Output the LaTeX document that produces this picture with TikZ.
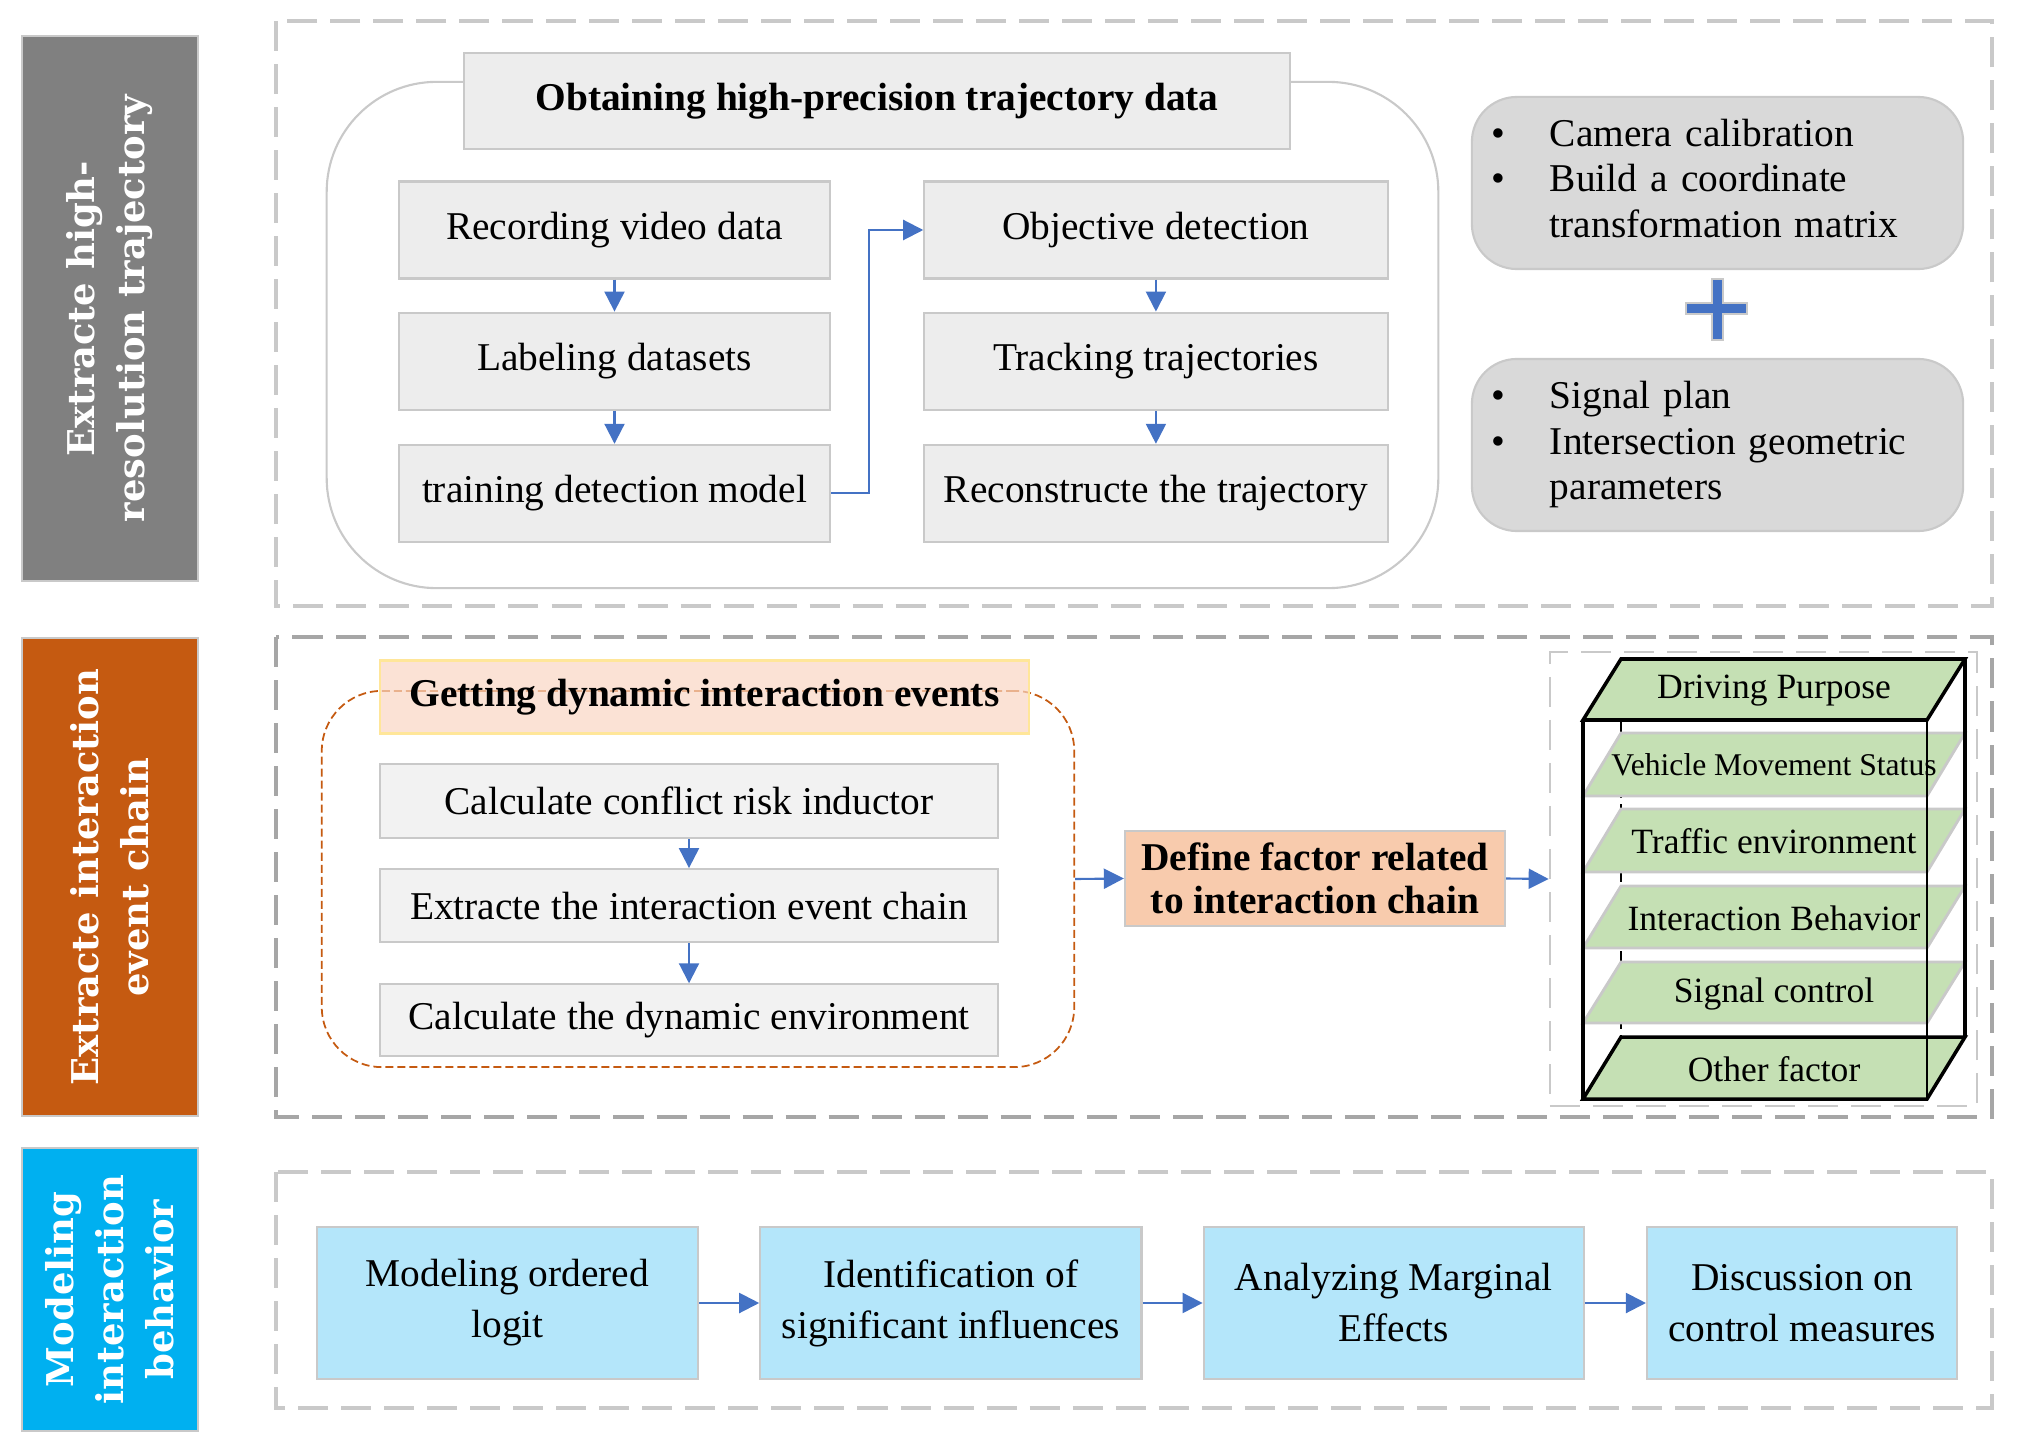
\documentclass[tikz,border=0pt]{standalone}
\usepackage{fontspec}
\setmainfont{Liberation Serif}
\newfontfamily\sidefont{DejaVu Serif}
\usetikzlibrary{arrows.meta,positioning}

\definecolor{boxgray}{HTML}{EDEDED}
\definecolor{calcgray}{HTML}{F2F2F2}
\definecolor{edgegray}{HTML}{C9C9C9}
\definecolor{pillgray}{HTML}{D9D9D9}
\definecolor{sidegray}{HTML}{808080}
\definecolor{darkdash}{HTML}{A6A6A6}
\definecolor{arrowblue}{HTML}{4472C4}
\definecolor{rust}{HTML}{C55A11}
\definecolor{sky}{HTML}{00B0F0}
\definecolor{paleorange}{HTML}{F9D6C3}
\definecolor{paleyellow}{HTML}{FFE699}
\definecolor{peach}{HTML}{F8CBAD}
\definecolor{leaf}{HTML}{C5E0B4}
\definecolor{paleblue}{HTML}{B4E6FA}

\tikzset{
  sidebar/.style={draw=edgegray, line width=0.6pt, text=white, rotate=90, inner sep=0pt,
    minimum height=1.76cm, align=center, font=\sidefont\bfseries\fontsize{10.5}{14.2}\selectfont},
  stageframe/.style={line width=1.3pt, dash pattern=on 3mm off 1.3mm},
  stepbox/.style={draw=edgegray, fill=boxgray, line width=0.6pt, inner sep=0pt,
    font=\fontsize{11.2}{14.5}\selectfont},
  calcbox/.style={stepbox, fill=calcgray, minimum width=6.18cm},
  modelbox/.style={stepbox, fill=paleblue, align=center, minimum height=1.52cm},
  pill/.style={draw=edgegray, fill=pillgray, line width=0.6pt, rounded corners=0.45cm,
    inner xsep=0.2cm, inner ysep=0pt, align=left, text width=4.51cm, minimum height=1.72cm,
    font=\fontsize{11.2}{12.8}\selectfont},
  flow/.style={-{Triangle[length=0.2cm,width=0.2cm]}, draw=arrowblue, line width=0.6pt},
  slab/.style={fill=leaf, draw=edgegray, line width=0.8pt},
  endslab/.style={fill=leaf, draw=black, line width=1pt},
  slabtext/.style={inner sep=0pt, font=\fontsize{10.1}{12}\selectfont}
}

\begin{document}
\begin{tikzpicture}[x=0.01cm, y=-0.01cm]
\useasboundingbox (0,0) rectangle (2019,1443);

% side labels
\node[sidebar, fill=sidegray, minimum width=5.45cm] (side1) at (110,308.5) {Extracte high-\\resolution trajectory};
\node[sidebar, fill=rust, minimum width=4.78cm] (side2) at (110,877) {Extracte interaction\\event chain};
\node[sidebar, fill=sky, minimum width=2.83cm] (side3) at (110,1289.5) {Modeling\\interaction\\behavior};

% first stage
\draw[stageframe, draw=edgegray] (276,21) rectangle (1992,606);
\node[draw=edgegray, line width=0.6pt, rounded corners=1.1cm, minimum width=11.11cm, minimum height=5.06cm] (trajframe) at (882.5,335) {};
\node[stepbox, font=\bfseries\fontsize{11.2}{14.5}\selectfont, minimum width=8.26cm, minimum height=0.96cm] (trajtitle) at (877,101) {Obtaining high-precision trajectory data};
\node[stepbox, minimum width=4.31cm, minimum height=0.97cm] (record) at (614.5,230) {Recording video data};
\node[stepbox, minimum width=4.31cm, minimum height=0.97cm, below=0.32cm of record] (label) {Labeling datasets};
\node[stepbox, minimum width=4.31cm, minimum height=0.97cm, below=0.33cm of label] (train) {training detection model};
\node[stepbox, minimum width=4.63cm, minimum height=0.97cm, right=0.92cm of record] (objdet) {Objective detection};
\node[stepbox, minimum width=4.63cm, minimum height=0.97cm, below=0.32cm of objdet] (track) {Tracking trajectories};
\node[stepbox, minimum width=4.63cm, minimum height=0.97cm, below=0.33cm of track] (rebuild) {Reconstructe the trajectory};
\draw[flow] (record) -- (label);
\draw[flow] (label) -- (train);
\draw[flow] (train.east) -- ++(38,0) |- (objdet.west);
\draw[flow] (objdet) -- (track);
\draw[flow] (track) -- (rebuild);

\node[pill] (camera) at (1717.5,183) {\begin{tabular}{@{}p{0.58cm}@{}l@{}}\textbullet & Camera calibration\\ \textbullet & Build a coordinate\\ & transformation matrix\end{tabular}};
\node[pill] (signal) at (1717.5,445) {\begin{tabular}{@{}p{0.58cm}@{}l@{}}\textbullet & Signal plan\\ \textbullet & Intersection geometric\\ & parameters\end{tabular}};
\draw[draw=edgegray, fill=arrowblue, line width=0.5pt] (1712,279) -- (1723,279) -- (1723,303) -- (1747,303) -- (1747,314) -- (1723,314) -- (1723,340) -- (1712,340) -- (1712,314) -- (1686,314) -- (1686,303) -- (1712,303) -- cycle;

% second stage
\draw[stageframe, draw=darkdash] (276,637) rectangle (1992,1117);
\node[draw=rust, line width=0.5pt, dash pattern=on 0.8mm off 0.4mm, rounded corners=0.6cm, minimum width=7.52cm, minimum height=3.76cm] (events) at (698,879) {};
\node[fill=paleorange, fill opacity=0.7, text opacity=1, draw=paleyellow, line width=0.6pt, inner sep=0pt, font=\bfseries\fontsize{11.2}{14.5}\selectfont, minimum width=6.49cm, minimum height=0.73cm] (evtitle) at (704.5,697) {Getting dynamic interaction events};
\node[calcbox, minimum height=0.74cm] (risk) at (689,801) {Calculate conflict risk inductor};
\node[calcbox, minimum height=0.73cm, below=0.29cm of risk] (chain) {Extracte the interaction event chain};
\node[calcbox, minimum height=0.72cm, below=0.40cm of chain] (dynenv) {Calculate the dynamic environment};
\draw[flow] (risk) -- (chain);
\draw[flow] (chain) -- (dynenv);
\node[stepbox, fill=peach, align=center, font=\bfseries\fontsize{11.2}{12.2}\selectfont, minimum width=3.80cm, minimum height=0.95cm] (define) at (1315,878.5) {Define factor related\\to interaction chain};
\draw[flow] (events.east) -- (define.west);
\node[draw=edgegray, line width=0.7pt, dash pattern=on 3mm off 1.3mm, minimum width=4.27cm, minimum height=4.54cm] (factors) at (1763.5,879) {};
\draw[flow] (define.east) -- (factors.west);

% factor stack
\draw[line width=0.6pt, dash pattern=on 1.5mm off 0.6mm] (1621,720) -- (1621,1037);
\draw[slab] (1621,733) -- (1965,733) -- (1927,796) -- (1583,796) -- cycle;
\draw[slab] (1621,809) -- (1965,809) -- (1927,872) -- (1583,872) -- cycle;
\draw[slab] (1621,886) -- (1965,886) -- (1927,948) -- (1583,948) -- cycle;
\draw[slab] (1621,962) -- (1965,962) -- (1927,1023) -- (1583,1023) -- cycle;
\draw[endslab] (1621,659) -- (1965,659) -- (1927,720) -- (1583,720) -- cycle;
\draw[endslab] (1621,1037) -- (1965,1037) -- (1927,1099) -- (1583,1099) -- cycle;
\draw[line width=1.1pt] (1583,720) -- (1583,1099);
\draw[line width=0.6pt] (1927,720) -- (1927,1099);
\draw[line width=1pt] (1965,659) -- (1965,1037);
\node[slabtext] (purpose) at (1774,691) {Driving Purpose};
\node[slabtext, font=\fontsize{9}{11}\selectfont] (motion) at (1774,765) {Vehicle Movement Status};
\node[slabtext] (traffic) at (1774,841) {Traffic environment};
\node[slabtext] (behave) at (1774,918) {Interaction Behavior};
\node[slabtext] (control) at (1774,994) {Signal control};
\node[slabtext] (other) at (1774,1069) {Other factor};

% third stage
\draw[stageframe, draw=edgegray] (276,1172) rectangle (1992,1408);
\node[modelbox, minimum width=3.81cm] (ologit) at (507.5,1303) {Modeling ordered\\logit};
\node[modelbox, minimum width=3.81cm, right=0.60cm of ologit] (signif) {Identification of\\significant influences};
\node[modelbox, minimum width=3.80cm, right=0.60cm of signif] (margin) {Analyzing Marginal\\Effects};
\node[modelbox, minimum width=3.10cm, right=0.61cm of margin] (measure) {Discussion on\\control measures};
\draw[flow] (ologit) -- (signif);
\draw[flow] (signif) -- (margin);
\draw[flow] (margin) -- (measure);
\end{tikzpicture}
\end{document}
